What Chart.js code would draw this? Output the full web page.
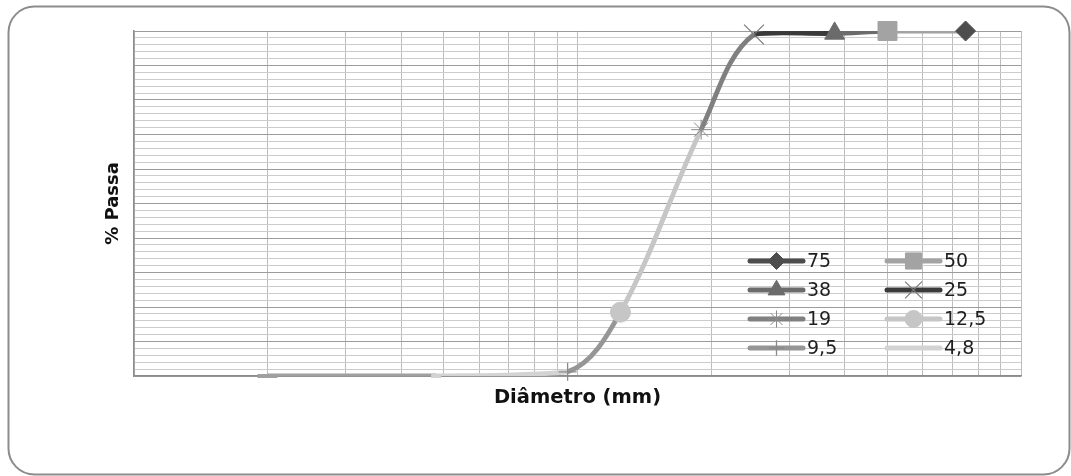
<!DOCTYPE html>
<html><head><meta charset="utf-8">
<script src="https://cdn.jsdelivr.net/npm/chart.js@4.4.1/dist/chart.umd.min.js"></script>
<style>html,body{margin:0;padding:0;background:#fff;} canvas{display:block;}</style>
</head><body>
<canvas id="c" width="1071" height="476"></canvas>
<script>
// ---- data ----
const seriesLabels = ['75', '50', '38', '25', '19', '12,5', '9,5', '4,8', '2'];
const sieveSizes = [75, 50, 38, 25, 19, 12.5, 9.5, 4.8, 2.0];
const percentPassing = [100, 100, 99.3, 99.0, 71.4, 18.5, 1.2, 0, 0];
const legendCount = 8;
const xTickValues = [1, 2, 3, 4, 5, 6, 7, 8, 9, 10, 20, 30, 40, 50, 60, 70, 80, 90, 100];
const yMin = 0, yMax = 100, yStep = 2, yMajorStep = 10;
const xTitle = 'Diâmetro (mm)';
const yTitle = '% Passa';

// ---- styles ----
const seriesStyle = [
  {color: '#4d4d4d', point: 'rectRot', r: 10, fill: true, bw: 1},
  {color: '#a3a3a3', point: 'rect', r: 13.4, fill: true, bw: 1},
  {color: '#6b6b6b', point: 'triangle', r: 11.5, fill: true, bw: 1},
  {color: '#3a3a3a', point: 'crossRot', r: 14, fill: false, markerColor: '#7a7a7a', bw: 1.2},
  {color: '#808080', point: 'star', r: 10, fill: false, markerColor: '#8a8a8a', bw: 1},
  {color: '#c6c6c6', point: 'circle', r: 10, fill: true, bw: 1},
  {color: '#969696', point: 'cross', r: 9, fill: false, markerColor: '#8a8a8a', bw: 1.3},
  {color: '#d3d3d3', point: 'line', r: 5, fill: false, bw: 4},
  {color: '#a0a0a0', point: 'line', r: 10, fill: false, bw: 4}
];

const order = sieveSizes.map((s, i) => i).sort((a, b) => sieveSizes[a] - sieveSizes[b]);
const curveData = order.map(i => ({x: sieveSizes[i], y: percentPassing[i]}));

const datasets = [{
  label: 'curva',
  data: curveData,
  showLine: true,
  tension: 0.35,
  borderWidth: 4.8,
  borderColor: '#999',
  pointRadius: 0,
  pointHoverRadius: 0,
  fill: false,
  order: 1,
  segment: {borderColor: ctx => seriesStyle[order[ctx.p0DataIndex]].color}
}];
sieveSizes.forEach((s, i) => {
  const st = seriesStyle[i];
  datasets.push({
    label: seriesLabels[i],
    data: [{x: s, y: percentPassing[i]}],
    showLine: false,
    pointStyle: st.point,
    pointRadius: st.r,
    pointHoverRadius: st.r,
    pointBackgroundColor: st.fill ? st.color : 'rgba(0,0,0,0)',
    pointBorderColor: st.markerColor || st.color,
    pointBorderWidth: st.bw,
    pointHoverBorderWidth: st.bw,
    clip: false,
    order: 0
  });
});

const framePlugin = {
  id: 'frame',
  beforeDraw(chart) {
    const ctx = chart.ctx;
    ctx.save();
    ctx.fillStyle = '#fff';
    ctx.fillRect(0, 0, chart.width, chart.height);
    ctx.beginPath();
    ctx.roundRect(8.5, 6.5, 1061, 468, 26);
    ctx.strokeStyle = '#8c8c8c';
    ctx.lineWidth = 2;
    ctx.stroke();
    ctx.restore();
  }
};

const legendPlugin = {
  id: 'gridLegend',
  afterDraw(chart) {
    const ctx = chart.ctx;
    const a = chart.chartArea;
    ctx.save();
    for (let i = 0; i < legendCount; i++) {
      const st = seriesStyle[i];
      const col = i % 2, row = Math.floor(i / 2);
      const x0 = a.right - 271 + col * 137;
      const y = a.bottom - 115 + row * 29;
      ctx.beginPath();
      ctx.strokeStyle = st.color;
      ctx.lineWidth = 5;
      ctx.lineCap = 'round';
      ctx.moveTo(x0, y);
      ctx.lineTo(x0 + 53, y);
      ctx.stroke();
      ctx.lineCap = 'butt';
      ctx.fillStyle = st.fill ? st.color : 'rgba(0,0,0,0)';
      ctx.strokeStyle = st.markerColor || st.color;
      ctx.lineWidth = st.bw;
      Chart.helpers.drawPoint(ctx, {pointStyle: st.point, radius: st.r * 0.85, borderWidth: st.bw, rotation: 0}, x0 + 26.5, y);
      ctx.fillStyle = '#1e1e1e';
      ctx.font = '19px "DejaVu Sans"';
      ctx.textBaseline = 'middle';
      ctx.textAlign = 'left';
      ctx.fillText(seriesLabels[i], x0 + 57, y + 1);
    }
    ctx.restore();
  }
};

new Chart(document.getElementById('c'), {
  type: 'scatter',
  data: {datasets},
  plugins: [framePlugin, legendPlugin],
  options: {
    responsive: false,
    animation: false,
    devicePixelRatio: 1,
    events: [],
    layout: {padding: {left: 0, top: 31, right: 50, bottom: 0}},
    plugins: {legend: {display: false}, tooltip: {enabled: false}},
    scales: {
      x: {
        type: 'logarithmic',
        min: 1, max: 100,
        afterBuildTicks: s => { s.ticks = xTickValues.map(v => ({value: v})); },
        afterFit: s => { s.height = 100; },
        ticks: {display: false, autoSkip: false},
        grid: {color: '#bdbdbd', lineWidth: 1, drawTicks: false, tickLength: 0},
        border: {color: '#8c8c8c', width: 1.5},
        title: {display: true, text: xTitle, color: '#111', font: {family: 'DejaVu Sans', size: 19.5, weight: 'bold'}, padding: {top: 0, bottom: 66}}
      },
      y: {
        min: yMin, max: yMax,
        afterFit: s => { s.width = 134; },
        ticks: {display: false, stepSize: yStep},
        grid: {
          color: c => (c.tick && c.tick.value % yMajorStep === 0) ? '#9c9c9c' : '#cccccc',
          lineWidth: 1, drawTicks: false, tickLength: 0
        },
        border: {color: '#8c8c8c', width: 1.5},
        title: {display: true, text: yTitle, color: '#111', font: {family: 'DejaVu Sans', size: 18, weight: 'bold'}, padding: {top: 103, bottom: 0}}
      }
    }
  }
});
</script>
</body></html>
